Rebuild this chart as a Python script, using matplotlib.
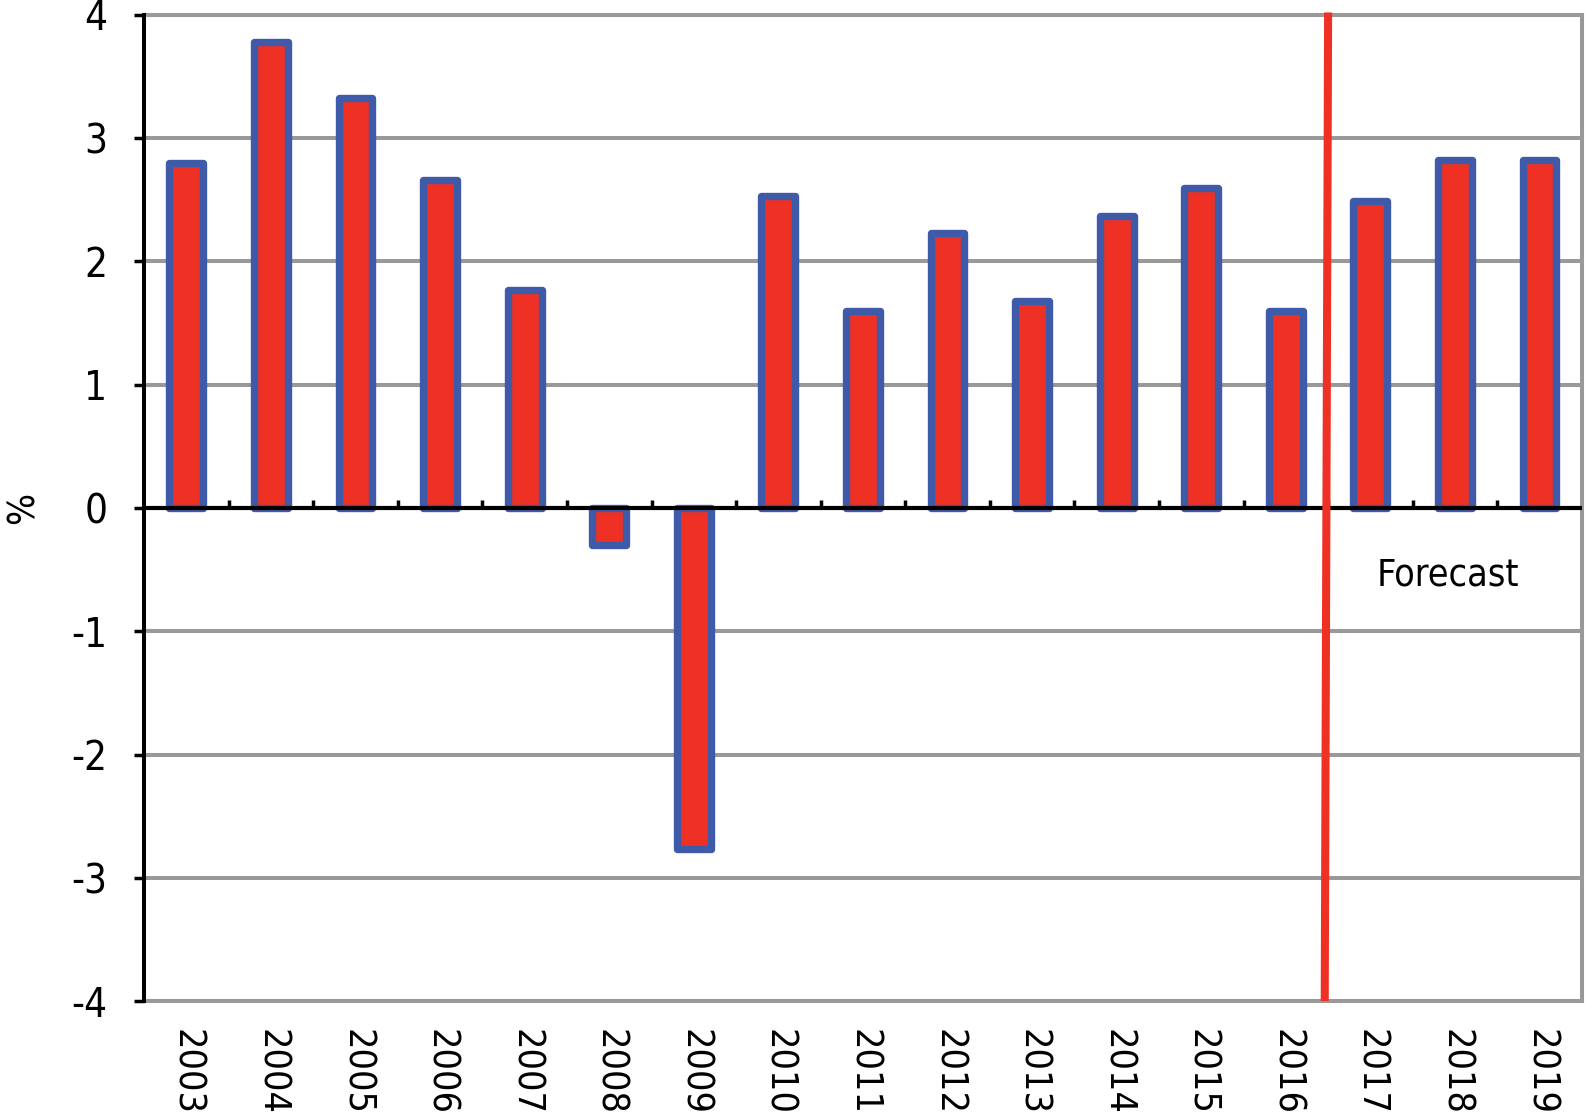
import numpy as np
import matplotlib
matplotlib.use("Agg")
import matplotlib.pyplot as plt

plt.rcParams['font.family'] = ['DejaVu Sans']
plt.rcParams['font.stretch'] = 'condensed'

# Data
years = ['2003', '2004', '2005', '2006', '2007', '2008', '2009', '2010', '2011',
         '2012', '2013', '2014', '2015', '2016', '2017', '2018', '2019']
growth = [2.80, 3.78, 3.33, 2.66, 1.77, -0.30, -2.77, 2.53, 1.60,
          2.23, 1.68, 2.37, 2.60, 1.60, 2.49, 2.82, 2.82]
y_ticks = [-4, -3, -2, -1, 0, 1, 2, 3, 4]
forecast_x = [13.50, 13.46]   # slightly tilted separator between 2016 and 2017
forecast_label = 'Forecast'
forecast_label_pos = (14.07, -0.625)

bar_red = '#EE3124'
edge_blue = '#3F5AA8'
grid_grey = '#999999'

fig = plt.figure(figsize=(15.85, 11.16), dpi=100)
ax = fig.add_axes([0.0909, 0.103, 0.9071, 0.8836])

x = np.arange(len(years))
ax.bar(x, growth, width=0.40, color=bar_red, edgecolor=edge_blue,
       linewidth=5.3, joinstyle='round', zorder=3)

# zero line with small upward ticks between categories
ax.axhline(0, color='black', linewidth=3, zorder=5)
bounds = x[:-1] + 0.5
ax.plot(bounds, np.zeros_like(bounds), ls='none', marker=2, ms=6, mew=2.5,
        color='black', zorder=5)

# forecast separator
ax.plot(forecast_x, [y_ticks[-1] + 0.02, y_ticks[0]], color=bar_red,
        linewidth=5.8, zorder=6, clip_on=False, solid_capstyle='butt')
ax.text(forecast_label_pos[0], forecast_label_pos[1], forecast_label,
        fontsize=27, ha='left', va='baseline', zorder=7)

ax.set_xlim(-0.5, len(years) - 0.5)
ax.set_ylim(y_ticks[0], y_ticks[-1])
ax.set_yticks(y_ticks)
ax.set_yticklabels([str(v) for v in y_ticks], fontsize=29)
ax.set_xticks(x)
ax.set_xticklabels(years, fontsize=27, rotation=270)

ax.yaxis.grid(True, color=grid_grey, linewidth=2.9)
ax.set_axisbelow(True)

ax.tick_params(axis='y', direction='out', length=7, width=2.5, pad=19.5, color='black')
ax.tick_params(axis='x', length=0, pad=20)

ax.spines['left'].set_color('black')
ax.spines['left'].set_linewidth(2.9)
ax.spines['left'].set_zorder(6)
for s in ['top', 'right', 'bottom']:
    ax.spines[s].set_color(grid_grey)
    ax.spines[s].set_linewidth(2.9)

ax.set_ylabel('%', fontsize=27)
ax.yaxis.set_label_coords(-0.0716, 0.5)

plt.savefig('out.png', dpi=100)
